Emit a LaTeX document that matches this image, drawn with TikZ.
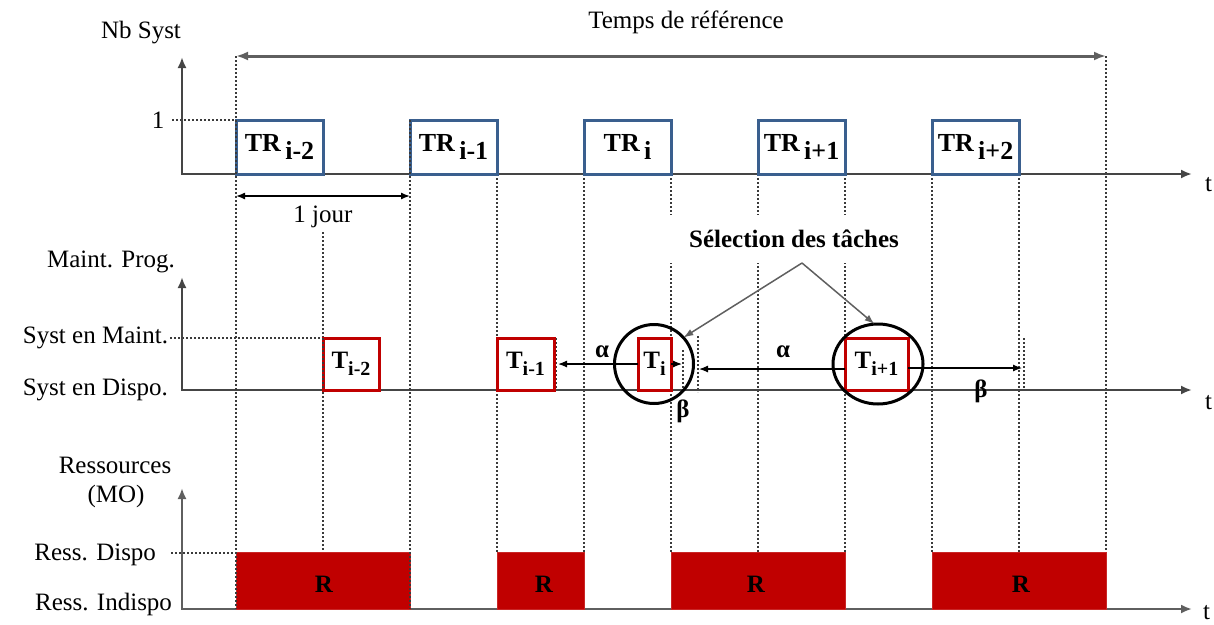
\documentclass[tikz,border=0pt]{standalone}
\usepackage{fontspec}
\setmainfont{Liberation Serif}
\usetikzlibrary{arrows.meta,shapes.geometric}
\definecolor{axisgray}{HTML}{454545}
\definecolor{guidegray}{HTML}{3A3A3A}
\definecolor{trblue}{HTML}{3A5F8E}
\definecolor{tred}{HTML}{C00000}
\definecolor{refgray}{HTML}{5F5F5F}
\newcommand{\lowsub}[1]{\raisebox{-0.3em}{#1}}
\newcommand{\smsub}[1]{\raisebox{-0.3em}{\fontsize{20}{20}\selectfont #1}}
\begin{document}
\begin{tikzpicture}[x=1pt,y=-1pt,
  every node/.style={inner sep=0pt, outer sep=0pt},
  lbl/.style={font=\fontsize{25}{28}\selectfont},
  blbl/.style={font=\fontsize{25}{28}\selectfont\bfseries},
  axis/.style={draw=axisgray, line width=2.5pt, {Latex[length=11pt,width=9pt]}-{Latex[length=11pt,width=9pt]}},
  guide/.style={draw=guidegray, line width=2pt, dash pattern=on 2.4pt off 1.6pt},
  lguide/.style={draw=guidegray, line width=1.4pt, dash pattern=on 2.2pt off 1.8pt},
  trbox/.style={draw=trblue, line width=3pt, fill=white, minimum width=87, minimum height=54, font=\fontsize{26}{28}\selectfont\bfseries},
  tbox/.style={draw=tred, line width=3pt, fill=white, minimum height=52, font=\fontsize{25}{28}\selectfont\bfseries},
  rbox/.style={fill=tred, draw=tred!85!white, line width=1pt, minimum height=57, font=\fontsize{25}{28}\selectfont\bfseries},
  selring/.style={draw=black, line width=3pt},
  dimarrow/.style={draw=black, line width=1.2pt, -{Latex[length=9pt,width=7pt]}},
  callout/.style={draw=refgray, line width=1.5pt, -{Latex[length=10pt,width=7pt]}},
  refarrow/.style={draw=refgray, line width=3pt, {Latex[length=12pt,width=9pt]}-{Latex[length=12pt,width=9pt]}},
  jourarrow/.style={draw=black, line width=1.4pt, {Latex[length=9pt,width=7pt]}-{Latex[length=9pt,width=7pt]}},
]
\useasboundingbox (0,0) rectangle (1214,624);

% ---------- guide lines ----------
\draw[guide] (236,56) -- (236,609);
\draw[guide] (323,232) -- (323,552);
\draw[guide] (410,120) -- (410,609);
\draw[guide] (497,174) -- (497,552);
\draw[guide] (584,174) -- (584,552);
\draw[guide] (671,174) -- (671,552);
\draw[guide] (758,174) -- (758,552);
\draw[guide] (845,174) -- (845,552);
\draw[guide] (932,174) -- (932,552);
\draw[guide] (1019,174) -- (1019,552);
\draw[guide] (1106,56) -- (1106,552);

\draw[lguide] (172,120) -- (236,120);
\draw[lguide] (170,338) -- (323,338);
\draw[lguide] (171,553) -- (236,553);

% small markers
\draw[guide] (556,338) -- (556,390);
\draw[guide] (683,350) -- (683,390);
\draw[guide] (698,336) -- (698,392);
\draw[guide] (1024,338) -- (1024,390);

% ---------- axes ----------
\coordinate (ytop1) at (182,57);
\coordinate (o1) at (182,174);
\coordinate (xend1) at (1192,174);
\coordinate (ytop2) at (182,277);
\coordinate (o2) at (182,390);
\coordinate (xend2) at (1192,390);
\coordinate (ytop3) at (182,488);
\coordinate (o3) at (182,609);
\coordinate (xend3) at (1192,609);
\draw[axis] (ytop1) -- (o1) -- (xend1);
\draw[axis] (ytop2) -- (o2) -- (xend2);
\draw[axis, draw=refgray] (ytop3) -- (o3) -- (xend3);

\node[lbl, anchor=west] (t1) at (1205,185) {t};
\node[lbl, anchor=west] (t2) at (1205,403) {t};
\node[lbl, anchor=west] (t3) at (1203,613) {t};

% ---------- axis labels ----------
\node[lbl] (nbsyst) at (141,33) {Nb Syst};
\node[lbl] (one) at (158,120) {1};
\node[lbl] (mprog) at (111,262) {Maint. Prog.};
\node[lbl, anchor=east] (smaint) at (168,338) {Syst en Maint.};
\node[lbl, anchor=east] (sdispo) at (168,390) {Syst en Dispo.};
\node[lbl] (ress) at (115,465) {Ressources};
\node[lbl] (mo) at (116,496) {(MO)};
\node[lbl, anchor=east] (rdispo) at (156,555) {Ress. Dispo};
\node[lbl, anchor=east] (rindispo) at (172,604) {Ress. Indispo};

% ---------- reference time ----------
\coordinate (refL) at (236,56);
\coordinate (refR) at (1106,56);
\draw[refarrow] (refL) -- (refR);
\node[lbl] (temps) at (686,22) {Temps de référence};

\coordinate (jourL) at (236,196);
\coordinate (jourR) at (410,196);
\draw[jourarrow] (jourL) -- (jourR);
\node[lbl] (jour) at (323,217) {1 jour};

% ---------- TR boxes ----------
\node[trbox] (TRa) at (279.5,147) {TR\,\lowsub{i-2}};
\node[trbox] (TRb) at (453.5,147) {TR\,\lowsub{i-1}};
\node[trbox] (TRc) at (627.5,147) {TR\,\lowsub{i}};
\node[trbox] (TRd) at (801.5,147) {TR\,\lowsub{i+1}};
\node[trbox] (TRe) at (975.5,147) {TR\,\lowsub{i+2}};

% ---------- T boxes ----------
\node[tbox, minimum width=56] (Ta) at (351,364) {T\smsub{i-2}};
\node[tbox, minimum width=57] (Tb) at (525.5,364) {T\smsub{i-1}};
\node[tbox, minimum width=33] (Ti) at (654.5,364) {T\smsub{i}};
\node[tbox, minimum width=63] (Tip) at (876.5,364) {T\smsub{i+1}};

% redraw guides over box edges
\draw[guide] (236,56) -- (236,609);
\draw[guide] (410,120) -- (410,609);
\draw[guide] (323,338) -- (323,390);

% ---------- selection rings ----------
\node[selring, circle, minimum size=79] (Ci) at (654,364) {};
\node[selring, ellipse, minimum width=90, minimum height=80] (Cip) at (878,364) {};

% ---------- alpha / beta arrows ----------
\coordinate (aL) at (558,364);
\coordinate (bS) at (682,364);
\coordinate (aM) at (699,369);
\coordinate (bR) at (1022,368);
\draw[dimarrow] (Ti.west) -- (aL);
\draw[dimarrow] (Ti.east) -- (bS);
\draw[dimarrow] (Tip.west |- aM) -- (aM);
\draw[dimarrow] (Tip.east |- bR) -- (bR);
\node[blbl] (al1) at (602,352) {α};
\node[blbl] (al2) at (783,352) {α};
\node[blbl] (be1) at (683,411) {β};
\node[blbl] (be2) at (981,391) {β};

% ---------- selection label ----------
\node[blbl, fill=white, minimum width=268, minimum height=48] (sel) at (794,239) {Sélection des tâches};
\coordinate (apex) at (802,263);
\draw[callout] (apex) -- (Ci.42);
\draw[callout] (apex) -- (Cip.95);

% ---------- resources ----------
\node[rbox, minimum width=174] (Ra) at (323,580.5) {};
\node[rbox, minimum width=87] (Rb) at (540.5,580.5) {};
\node[rbox, minimum width=174] (Rc) at (758,580.5) {};
\node[rbox, minimum width=174] (Rd) at (1019,580.5) {};
\node[blbl] at (324,584) {R};
\node[blbl] at (544,584) {R};
\node[blbl] at (756,584) {R};
\node[blbl] at (1021,584) {R};
\draw[guide] (236,552) -- (236,609);
\draw[guide] (410,552) -- (410,609);
\end{tikzpicture}
\end{document}
